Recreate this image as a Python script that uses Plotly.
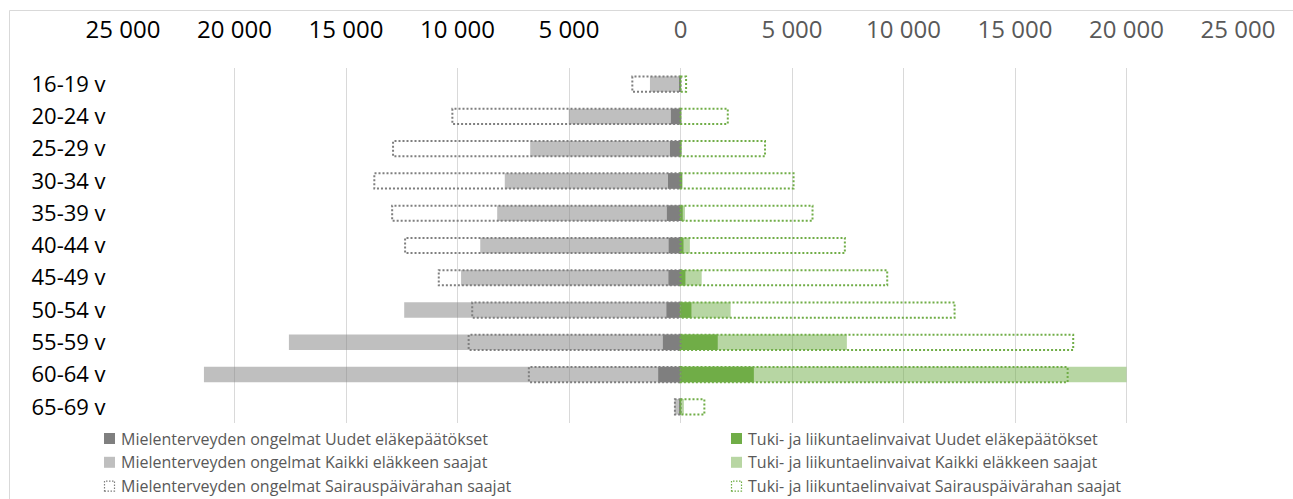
import plotly.graph_objects as go

# ---------------- data ----------------
categories = ["16-19 v", "20-24 v", "25-29 v", "30-34 v", "35-39 v", "40-44 v",
              "45-49 v", "50-54 v", "55-59 v", "60-64 v", "65-69 v"]

mental_new = [30, 430, 470, 560, 610, 530, 540, 630, 790, 1000, 30]
mental_all = [1370, 5010, 6740, 7880, 8220, 8980, 9840, 12390, 17560, 21370, 270]
mental_sick = [2160, 10230, 12890, 13730, 12930, 12350, 10840, 9340, 9500, 6800, 250]

support_new = [5, 10, 20, 40, 100, 135, 220, 490, 1670, 3290, 20]
support_all = [10, 30, 60, 100, 200, 420, 950, 2250, 7460, 20000, 150]
support_sick = [250, 2120, 3790, 5070, 5920, 7370, 9270, 12290, 17610, 17360, 1070]

tick_values = [-25000, -20000, -15000, -10000, -5000, 0, 5000, 10000, 15000, 20000, 25000]
tick_labels = ["25 000", "20 000", "15 000", "10 000", "5 000", "0",
               "5 000", "10 000", "15 000", "20 000", "25 000"]

name_mental_new = "Mielenterveyden ongelmat Uudet eläkepäätökset"
name_mental_all = "Mielenterveyden ongelmat Kaikki eläkkeen saajat"
name_mental_sick = "Mielenterveyden ongelmat Sairauspäivärahan saajat"
name_support_new = "Tuki- ja liikuntaelinvaivat Uudet eläkepäätökset"
name_support_all = "Tuki- ja liikuntaelinvaivat Kaikki eläkkeen saajat"
name_support_sick = "Tuki- ja liikuntaelinvaivat Sairauspäivärahan saajat"

# ---------------- style ----------------
FONT = "Open Sans"
GREY_DARK = "#7f7f7f"
GREY_LIGHT = "rgba(127,127,127,0.5)"
GREEN_DARK = "#70ad47"
GREEN_LIGHT = "rgba(112,173,71,0.5)"
TEXT_GREY = "#595959"

WIDTH, HEIGHT = 1293, 499
L, R, T, B = 123, 55, 68, 76
PW = WIDTH - L - R
PH = HEIGHT - T - B
BAR_W = 0.48
HALF = 0.235


def px_x(p):
    return (p - L) / PW


def px_y(p):
    return (HEIGHT - B - p) / PH


ypos = list(range(len(categories)))

fig = go.Figure()

fig.add_trace(go.Bar(orientation="h", y=ypos, x=[-v for v in mental_all],
                     marker=dict(color=GREY_LIGHT, line=dict(width=0)),
                     width=BAR_W, name=name_mental_all, showlegend=False))
fig.add_trace(go.Bar(orientation="h", y=ypos, x=[-v for v in mental_new],
                     marker=dict(color=GREY_DARK, line=dict(width=0)),
                     width=BAR_W, name=name_mental_new, showlegend=False))
fig.add_trace(go.Bar(orientation="h", y=ypos, x=support_all,
                     marker=dict(color=GREEN_LIGHT, line=dict(width=0)),
                     width=BAR_W, name=name_support_all, showlegend=False))
fig.add_trace(go.Bar(orientation="h", y=ypos, x=support_new,
                     marker=dict(color=GREEN_DARK, line=dict(width=0)),
                     width=BAR_W, name=name_support_new, showlegend=False))

shapes = []
# dotted outlines (sick-leave series), positioned by the data axes
for i, v in enumerate(mental_sick):
    shapes.append(dict(type="rect", xref="x", yref="y", x0=0, x1=-v,
                       y0=ypos[i] - HALF, y1=ypos[i] + HALF, layer="above",
                       fillcolor="rgba(0,0,0,0)",
                       line=dict(color=GREY_DARK, width=2, dash="2px,2px")))
for i, v in enumerate(support_sick):
    shapes.append(dict(type="rect", xref="x", yref="y", x0=0, x1=v,
                       y0=ypos[i] - HALF, y1=ypos[i] + HALF, layer="above",
                       fillcolor="rgba(0,0,0,0)",
                       line=dict(color=GREEN_DARK, width=2, dash="2px,2px")))

# chart border
shapes.append(dict(type="rect", xref="paper", yref="paper",
                   x0=px_x(9.5), x1=px_x(1400), y0=px_y(600), y1=px_y(10.5),
                   line=dict(color="#d9d9d9", width=1), fillcolor="rgba(0,0,0,0)",
                   layer="below"))

# manual legend (two columns, three rows)
annotations = []
legend_rows = [438.5, 462.3, 486.1]
legend_cols = [
    (104, [(name_mental_new, GREY_DARK, "solid"),
           (name_mental_all, "#bfbfbf", "solid"),
           (name_mental_sick, GREY_DARK, "dot")]),
    (731, [(name_support_new, GREEN_DARK, "solid"),
           (name_support_all, "#b8d6a3", "solid"),
           (name_support_sick, GREEN_DARK, "dot")]),
]
SQ = 11
for x0, entries in legend_cols:
    for row_y, (label, color, kind) in zip(legend_rows, entries):
        if kind == "solid":
            shapes.append(dict(type="rect", xref="paper", yref="paper",
                               x0=px_x(x0), x1=px_x(x0 + SQ),
                               y0=px_y(row_y + SQ / 2), y1=px_y(row_y - SQ / 2),
                               fillcolor=color, line=dict(width=0)))
        else:
            shapes.append(dict(type="rect", xref="paper", yref="paper",
                               x0=px_x(x0 + 0.5), x1=px_x(x0 + SQ - 0.5),
                               y0=px_y(row_y + SQ / 2 - 0.5), y1=px_y(row_y - SQ / 2 + 0.5),
                               fillcolor="rgba(0,0,0,0)",
                               line=dict(color=color, width=1.2, dash="1.5px,1.5px")))
        annotations.append(dict(xref="paper", yref="paper", x=px_x(x0 + SQ + 4),
                                y=px_y(row_y), xanchor="left", yanchor="middle",
                                showarrow=False, text=label,
                                font=dict(family=FONT, size=16, color=TEXT_GREY)))

tick_text = []
for v, t in zip(tick_values, tick_labels):
    c = "#000000" if v < 0 else TEXT_GREY
    tick_text.append(f"<span style='color:{c}'>{t}</span>")

fig.update_layout(
    width=WIDTH, height=HEIGHT,
    margin=dict(l=L, r=R, t=T, b=B, pad=0),
    paper_bgcolor="white", plot_bgcolor="white",
    barmode="overlay",
    showlegend=False,
    shapes=shapes,
    annotations=annotations,
    font=dict(family=FONT),
    xaxis=dict(
        side="top", range=[-25000, 25000],
        tickmode="array", tickvals=tick_values, ticktext=tick_text,
        tickfont=dict(family=FONT, size=24, color=TEXT_GREY),
        ticks="outside", ticklen=19, tickcolor="rgba(0,0,0,0)",
        showgrid=True, gridcolor="#d9d9d9", gridwidth=1,
        zeroline=False, showline=False, fixedrange=True,
    ),
    yaxis=dict(
        range=[len(categories) - 0.5, -0.5],
        tickmode="array", tickvals=ypos, ticktext=categories,
        tickfont=dict(family=FONT, size=22, color="#000000"),
        ticks="outside", ticklen=12, tickcolor="rgba(0,0,0,0)",
        showgrid=False, zeroline=False, showline=False, fixedrange=True,
    ),
)

fig.write_html("out.html")
